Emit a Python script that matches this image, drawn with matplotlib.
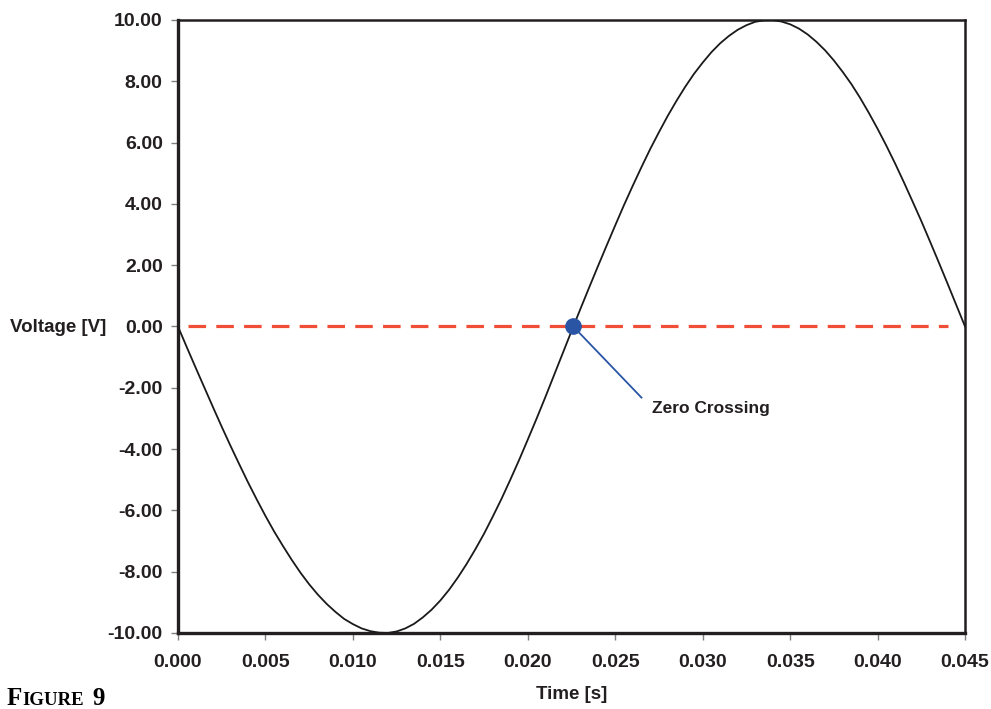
"""
Figure 9 - sine voltage with its zero crossing marked.
"""

import matplotlib
matplotlib.use("Agg")
import matplotlib.pyplot as plt
from matplotlib.offsetbox import TextArea, HPacker, AnchoredOffsetbox

# ---- data ----
time_s = [
    0.0000, 0.0005, 0.0010, 0.0015, 0.0020, 0.0025, 0.0030, 0.0035, 0.0040, 0.0045,
    0.0050, 0.0055, 0.0060, 0.0065, 0.0070, 0.0075, 0.0080, 0.0085, 0.0090, 0.0095,
    0.0100, 0.0105, 0.0110, 0.0115, 0.0120, 0.0125, 0.0130, 0.0135, 0.0140, 0.0145,
    0.0150, 0.0155, 0.0160, 0.0165, 0.0170, 0.0175, 0.0180, 0.0185, 0.0190, 0.0195,
    0.0200, 0.0205, 0.0210, 0.0215, 0.0220, 0.0225, 0.0230, 0.0235, 0.0240, 0.0245,
    0.0250, 0.0255, 0.0260, 0.0265, 0.0270, 0.0275, 0.0280, 0.0285, 0.0290, 0.0295,
    0.0300, 0.0305, 0.0310, 0.0315, 0.0320, 0.0325, 0.0330, 0.0335, 0.0340, 0.0345,
    0.0350, 0.0355, 0.0360, 0.0365, 0.0370, 0.0375, 0.0380, 0.0385, 0.0390, 0.0395,
    0.0400, 0.0405, 0.0410, 0.0415, 0.0420, 0.0425, 0.0430, 0.0435, 0.0440, 0.0445,
    0.0450,
]
voltage_v = [
    0.00, -0.67, -1.33, -1.98, -2.63, -3.27, -3.89, -4.49, -5.08, -5.64,
    -6.18, -6.69, -7.16, -7.61, -8.03, -8.41, -8.75, -9.05, -9.31, -9.54,
    -9.71, -9.85, -9.94, -9.99, -10.00, -9.95, -9.85, -9.70, -9.49, -9.24,
    -8.94, -8.59, -8.19, -7.75, -7.27, -6.76, -6.20, -5.62, -5.00, -4.36,
    -3.69, -3.01, -2.31, -1.59, -0.87, -0.15, 0.56, 1.26, 1.95, 2.63,
    3.30, 3.96, 4.59, 5.20, 5.79, 6.34, 6.87, 7.36, 7.82, 8.24,
    8.61, 8.95, 9.24, 9.48, 9.68, 9.83, 9.94, 9.99, 10.00, 9.95,
    9.86, 9.72, 9.53, 9.29, 9.01, 8.68, 8.31, 7.91, 7.46, 6.97,
    6.45, 5.90, 5.32, 4.71, 4.08, 3.44, 2.77, 2.09, 1.40, 0.70,
    0.00,
]

threshold_x = [0.0006, 0.0440]
threshold_y = [0.0, 0.0]

crossing_t = 0.0226
crossing_v = 0.0
label_t = 0.0265
label_v = -2.32

x_ticks = [0.000, 0.005, 0.010, 0.015, 0.020, 0.025, 0.030, 0.035, 0.040, 0.045]
y_ticks = [-10, -8, -6, -4, -2, 0, 2, 4, 6, 8, 10]

TEXT_COLOR = "#231f20"
plt.rcParams["font.family"] = ["Liberation Sans", "DejaVu Sans"]
plt.rcParams["font.weight"] = "bold"


def main():
    fig = plt.figure(figsize=(9.91, 7.09), dpi=100)
    ax = fig.add_axes([0.1796, 0.1072, 0.7942, 0.8646])

    # sine curve
    ax.plot(time_s, voltage_v, color="#1a1a1a", linewidth=1.3, zorder=3)

    # dashed zero line
    ax.plot(threshold_x, threshold_y, color="#f04e37", linewidth=2.3,
            dashes=(5.5, 3.2), zorder=2)

    # zero crossing marker and leader line
    ax.plot([crossing_t, label_t], [crossing_v, label_v], color="#2a55a5",
            linewidth=1.3, zorder=4)
    ax.plot(crossing_t, crossing_v, "o", color="#2a55a5", markersize=11, zorder=5)
    ax.text(label_t + 0.0006, label_v - 0.35, "Zero Crossing", fontsize=12.5,
            fontweight="bold", color=TEXT_COLOR, ha="left", va="center")

    ax.set_xlim(0, 0.045)
    ax.set_ylim(-10, 10)
    ax.set_xticks(x_ticks)
    ax.set_xticklabels([f"{t:.3f}" for t in x_ticks])
    ax.set_yticks(y_ticks)
    ax.set_yticklabels([f"{v:.2f}" for v in y_ticks])
    ax.tick_params(axis="both", direction="out", length=5, width=1,
                   color="#808080", labelsize=14, labelcolor=TEXT_COLOR, pad=6)
    ax.tick_params(axis="x", pad=10)

    for side in ["left", "bottom"]:
        ax.spines[side].set_linewidth(2.4)
    for side in ["top", "right"]:
        ax.spines[side].set_linewidth(1.8)
    for spine in ax.spines.values():
        spine.set_color("#231f20")

    ax.set_ylabel("Voltage [V]", fontsize=13.5, fontweight="bold", color=TEXT_COLOR,
                  rotation=0, ha="left", va="center")
    ax.yaxis.set_label_coords(-0.2135, 0.499)
    ax.set_xlabel("Time [s]", fontsize=13.5, fontweight="bold", color=TEXT_COLOR,
                  va="center")
    ax.xaxis.set_label_coords(0.5, -0.101)

    # "Figure 9" caption in small caps
    serif = ["Liberation Serif", "DejaVu Serif"]
    big = dict(size=18, weight="bold", family=serif, color="black")
    small = dict(size=13.5, weight="bold", family=serif, color="black")
    word = HPacker(children=[TextArea("F", textprops=big), TextArea("IGURE", textprops=small)],
                   align="baseline", pad=0, sep=0)
    caption = HPacker(children=[word, TextArea("9", textprops=big)],
                      align="baseline", pad=0, sep=6)
    box = AnchoredOffsetbox(loc="lower left", child=caption, pad=0, borderpad=0,
                            frameon=False, bbox_to_anchor=(7 / 991, -1 / 709),
                            bbox_transform=fig.transFigure)
    fig.add_artist(box)

    fig.savefig("out.png", dpi=100)


if __name__ == "__main__":
    main()
